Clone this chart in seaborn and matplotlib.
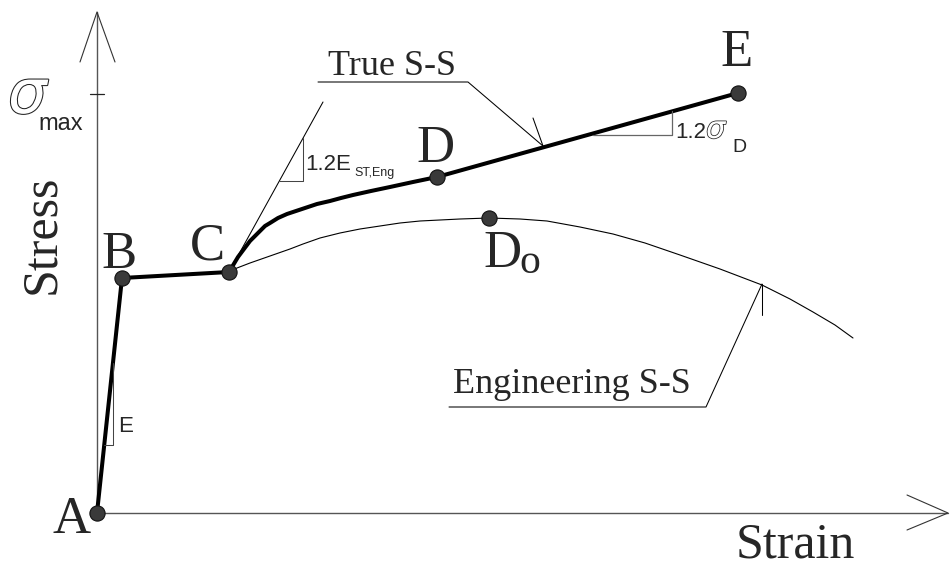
import matplotlib
matplotlib.use("Agg")
import matplotlib.pyplot as plt
import matplotlib.patheffects as pe
import seaborn as sns
import pandas as pd

# schematic drawn in picture coordinates (x right, y down)
point_names = ["A", "B", "C", "D", "E", "Do"]
point_x = [97, 122, 229, 437, 738, 489]
point_y = [513, 278, 272, 177, 93, 218]

# true stress-strain: A -> B -> C -> curve -> D -> E
true_x = [97, 122, 229, 232, 235, 238, 241, 244, 247, 250, 253, 257, 261, 265, 270,
          278, 287, 296, 305, 317, 330, 341, 353, 371, 390, 413, 437, 738]
true_y = [513, 278, 272, 267, 262, 257, 253, 249, 245, 241, 238, 234, 230, 226, 223,
          218, 214, 211, 208, 204, 201, 198, 195, 191, 187, 182, 177, 93]

# engineering stress-strain, branching off at C
eng_x = [229, 233, 237, 250, 270, 290, 303, 320, 340, 360, 380, 400, 420, 440, 460,
         489, 520, 547, 580, 613, 645, 680, 720, 762, 790, 813, 835, 853]
eng_y = [272, 270, 268, 263, 256, 249, 244, 238, 233, 229, 226, 223, 221, 220, 219,
         218, 219, 221, 227, 234, 243, 255, 269, 285, 299, 312, 325, 338]

# helper lines (tangent, slope triangles, leaders)
tangent_x = [229, 323]
tangent_y = [272, 102]
tri_ec_x = [279, 303, 303]
tri_ec_y = [181, 181, 138]
tri_sd_x = [593, 672, 672]
tri_sd_y = [135, 135, 111]
tri_e_x = [104, 113, 113]
tri_e_y = [445, 445, 363]
lead_true_x = [318, 468, 543]
lead_true_y = [82, 82, 146]
tick_true_x = [533, 543]
tick_true_y = [118, 146]
lead_eng_x = [449, 706, 762]
lead_eng_y = [407, 407, 284]
tick_eng_x = [762, 762]
tick_eng_y = [284, 315]

sns.set_theme(style="white")

fig = plt.figure(figsize=(9.5, 5.64), dpi=100)
ax = fig.add_axes([0, 0, 1, 1])
ax.set_xlim(0, 950)
ax.set_ylim(564, 0)
ax.set_axis_off()

# axes with open arrow heads
axis_col = "#555555"
ax.plot([97, 97], [12, 513], color=axis_col, lw=1.0)
ax.plot([80, 97, 115], [62, 12, 62], color="#333333", lw=0.8)
ax.plot([97, 948], [513, 513], color=axis_col, lw=1.0)
ax.plot([907, 948, 907], [495, 513, 530], color="#333333", lw=0.8)
ax.plot([90, 104], [94, 94], color="#222222", lw=0.9)

# curves
true_df = pd.DataFrame({"x": true_x, "y": true_y})
eng_df = pd.DataFrame({"x": eng_x, "y": eng_y})
sns.lineplot(data=eng_df, x="x", y="y", sort=False, estimator=None,
             color="black", lw=0.8, ax=ax)
sns.lineplot(data=true_df, x="x", y="y", sort=False, estimator=None,
             color="black", lw=2.9, ax=ax)

# helper lines
thin = dict(color="black", lw=0.75)
ax.plot(tangent_x, tangent_y, **thin)
ax.plot(tri_ec_x, tri_ec_y, color="#444444", lw=0.75)
ax.plot(tri_sd_x, tri_sd_y, color="#666666", lw=0.9)
ax.plot(tri_e_x, tri_e_y, color="#444444", lw=0.75)
ax.plot(lead_true_x, lead_true_y, **thin)
ax.plot(tick_true_x, tick_true_y, **thin)
ax.plot(lead_eng_x, lead_eng_y, **thin)
ax.plot(tick_eng_x, tick_eng_y, **thin)

# points
pts = pd.DataFrame({"name": point_names, "x": point_x, "y": point_y})
sns.scatterplot(data=pts, x="x", y="y", s=120, color="#3a3a3a",
                edgecolor="#111111", linewidth=0.8, zorder=5, ax=ax)
ax.set_axis_off()

serif = "Liberation Serif"
sans = "Liberation Sans"

# point labels
ax.text(72, 533, "A", family=serif, fontsize=38, ha="center", va="baseline")
ax.text(119, 268, "B", family=serif, fontsize=38, ha="center", va="baseline")
ax.text(207, 259, "C", family=serif, fontsize=38, ha="center", va="baseline")
ax.text(436, 162, "D", family=serif, fontsize=38, ha="center", va="baseline")
ax.text(737, 66, "E", family=serif, fontsize=38, ha="center", va="baseline")
ax.text(483, 267, "D", family=serif, fontsize=38, ha="left", va="baseline")
ax.text(519, 273, "o", family=serif, fontsize=30, ha="left", va="baseline")

# curve names
ax.text(328, 75, "True S-S", family=serif, fontsize=26, ha="left", va="baseline")
ax.text(453, 393, "Engineering S-S", family=serif, fontsize=26, ha="left", va="baseline")

# axis titles
ax.text(795, 557, "Strain", family=serif, fontsize=36, ha="center", va="baseline")
ax.text(42, 234, "Stress", family=serif, fontsize=36, ha="center", va="center",
        rotation=90)

# sigma max (hollow sigma)
sig = "DejaVu Sans"
ax.text(8, 113, "σ", family=sig, style="oblique", fontsize=44, color="white",
        ha="left", va="baseline",
        path_effects=[pe.withStroke(linewidth=1.5, foreground="#222222")])
ax.text(38, 130, "max", family=sans, fontsize=17, ha="left", va="baseline")

# slope labels
ax.text(118, 432, "E", family=sans, fontsize=16, ha="left", va="baseline")
ax.text(305, 170, "1.2E", family=sans, fontsize=16, ha="left", va="baseline")
ax.text(354, 176, "ST,Eng", family=sans, fontsize=9, ha="left", va="baseline")
ax.text(675, 138, "1.2", family=sans, fontsize=16, ha="left", va="baseline")
ax.text(706, 138, "σ", family=sig, style="oblique", fontsize=22, color="white",
        ha="left", va="baseline",
        path_effects=[pe.withStroke(linewidth=1.1, foreground="#222222")])
ax.text(732, 152, "D", family=sans, fontsize=14, ha="left", va="baseline")

fig.savefig("out.png", dpi=100)
plt.close(fig)
